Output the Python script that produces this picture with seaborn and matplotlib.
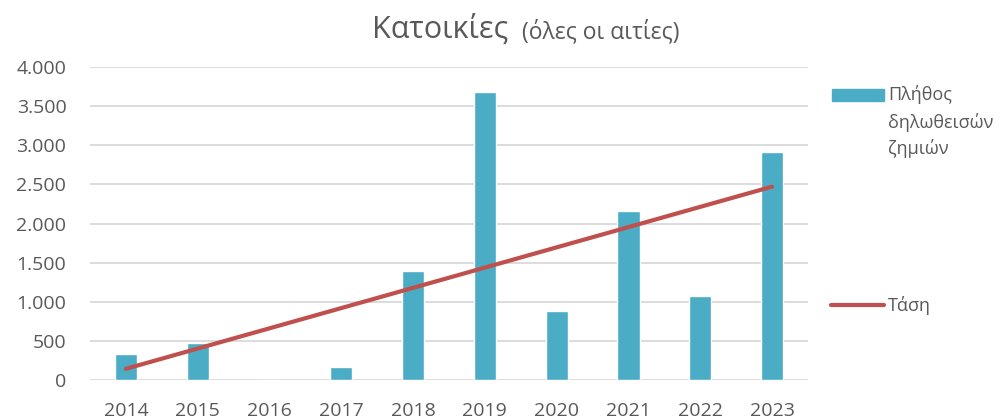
import numpy as np
import pandas as pd
import matplotlib
matplotlib.use('Agg')
import matplotlib.pyplot as plt
import seaborn as sns
from matplotlib.patches import Rectangle
from matplotlib.lines import Line2D

# δεδομένα (εκτίμηση από το γράφημα)
years = ['2014', '2015', '2016', '2017', '2018', '2019', '2020', '2021', '2022', '2023']
claims = [332, 477, 0, 162, 1393, 3677, 886, 2160, 1070, 2918]
y_ticks = [0, 500, 1000, 1500, 2000, 2500, 3000, 3500, 4000]

bar_color = '#4BACC6'
trend_color = '#C0504D'
text_color = '#595959'

sns.set_theme(style='white')
plt.rcParams['font.family'] = ['Open Sans', 'DejaVu Sans']

df = pd.DataFrame({'year': years, 'claims': claims, 'pos': np.arange(len(years))})

W, H = 1002, 419
fig = plt.figure(figsize=(W / 100, H / 100), dpi=100)
ax = fig.add_axes([0.0898, 0.093, 0.7165, 0.747])

sns.barplot(data=df, x='year', y='claims', color=bar_color, width=0.31,
            saturation=1, ax=ax, zorder=2)
# γραμμή τάσης (γραμμική προσαρμογή)
sns.regplot(data=df, x='pos', y='claims', scatter=False, ci=None, truncate=True,
            line_kws={'color': trend_color, 'lw': 3, 'solid_capstyle': 'round', 'zorder': 3},
            ax=ax)

ax.set_xlim(-0.5, len(years) - 0.5)
ax.set_ylim(0, 4000)
ax.set_yticks(y_ticks)
ax.set_yticklabels([f'{v:,}'.replace(',', '.') for v in y_ticks])
ax.set_xlabel('')
ax.set_ylabel('')
ax.grid(axis='y', color='#D9D9D9', lw=1.3, zorder=0)
ax.set_axisbelow(True)
for s in ax.spines.values():
    s.set_visible(False)
ax.tick_params(axis='both', length=0, labelsize=14, colors=text_color)
ax.tick_params(axis='x', pad=16)
ax.tick_params(axis='y', pad=17)

fig.text(372 / W, 1 - 38 / H, 'Κατοικίες', fontsize=22, color=text_color, va='baseline', ha='left')
fig.text(522 / W, 1 - 38 / H, '(όλες οι αιτίες)', fontsize=16.5, color=text_color, va='baseline', ha='left')

# υπόμνημα
fig.patches.append(Rectangle((832 / W, 1 - 101 / H), 52 / W, 12 / H, color=bar_color,
                             transform=fig.transFigure, figure=fig))
for i, line in enumerate(['Πλήθος', 'δηλωθεισών', 'ζημιών']):
    fig.text(888 / W, 1 - (95 + 27 * i) / H, line, fontsize=13, color=text_color,
             va='center', ha='left')
fig.lines.append(Line2D([831 / W, 884 / W], [1 - 305 / H, 1 - 305 / H], color=trend_color,
                        lw=3, solid_capstyle='round', transform=fig.transFigure, figure=fig))
fig.text(888 / W, 1 - 305 / H, 'Τάση', fontsize=13, color=text_color, va='center', ha='left')

fig.savefig('out.png', dpi=100)
